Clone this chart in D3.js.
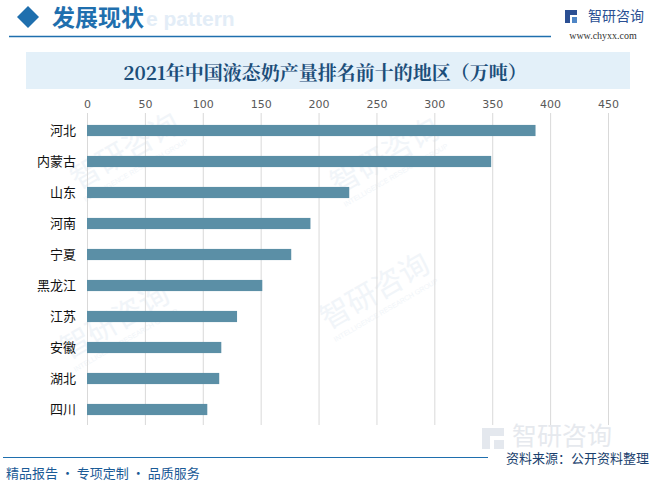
<!DOCTYPE html>
<html><head><meta charset="utf-8">
<script src="https://cdn.jsdelivr.net/npm/d3@7"></script>
<style>body{margin:0;background:#fff;}svg{display:block;}</style>
</head><body>
<svg id="c" width="669" height="492"></svg>
<script>
const categories = ["河北","内蒙古","山东","河南","宁夏","黑龙江","江苏","安徽","湖北","四川"];
const values = [387.4, 349.1, 226.5, 193.0, 176.4, 151.4, 129.6, 116.0, 114.2, 103.9];
const ticks = [0,50,100,150,200,250,300,350,400,450];
const title = "2021年中国液态奶产量排名前十的地区（万吨）";

const svg = d3.select("#c");
const cjk = "'Noto Sans CJK SC', 'Noto Sans', sans-serif";

// faint watermarks (kept inside the frame)
const wm = [[130,160],[390,165],[120,330],[380,300]];
wm.forEach(([x,y])=>{
  const g = svg.append("g").attr("transform",`translate(${x},${y}) rotate(-30)`);
  g.append("text").attr("x",0).attr("y",0).attr("font-family",cjk).attr("font-size",30)
    .attr("fill","#f1f5f9").attr("text-anchor","middle").text("智研咨询");
  g.append("text").attr("x",0).attr("y",14).attr("font-family","Arial").attr("font-size",7)
    .attr("fill","#f1f5f9").attr("text-anchor","middle").text("INTELLIGENCE RESEARCH GROUP");
});

// header
svg.append("text").attr("x",146).attr("y",26).attr("font-family","Arial, sans-serif").attr("font-weight","bold")
  .attr("font-size",21).attr("fill","#e3edf7").text("e pattern");
svg.append("path").attr("d","M17,17 L28,6 L39,17 L28,28 Z").attr("fill","#1f6fae");
svg.append("text").attr("x",52).attr("y",26).attr("font-family",cjk).attr("font-weight","bold")
  .attr("font-size",23).attr("fill","#1f6fae").text("发展现状");
svg.append("line").attr("x1",9).attr("x2",551).attr("y1",36.5).attr("y2",36.5).attr("stroke","#1f6fae").attr("stroke-width",1.5);
// logo
const lg = svg.append("g");
lg.append("rect").attr("x",565).attr("y",10).attr("width",5).attr("height",13).attr("fill","#2b4f93");
lg.append("rect").attr("x",570).attr("y",10).attr("width",7).attr("height",5).attr("fill","#2b4f93");
lg.append("rect").attr("x",572).attr("y",17).attr("width",5).attr("height",6).attr("fill","#4f86c6");
lg.append("text").attr("x",588).attr("y",21).attr("font-family",cjk).attr("font-size",14)
  .attr("fill","#2b4f93").text("智研咨询");
svg.append("text").attr("x",603).attr("y",39).attr("text-anchor","middle").attr("font-family","'Liberation Serif', serif")
  .attr("font-size",10).attr("fill","#333").text("www.chyxx.com");

// title band
svg.append("rect").attr("x",26).attr("y",52).attr("width",604).attr("height",37).attr("fill","#e3f0f9");
svg.append("text").attr("x",325).attr("y",80).attr("text-anchor","middle").attr("font-family","'Noto Serif CJK SC', 'Noto Sans CJK SC', serif")
  .attr("font-weight","bold").attr("font-size",19).attr("fill","#1c4e79").text(title);

// chart
const x = d3.scaleLinear().domain([0,450]).range([87,608]);
const y = d3.scaleBand().domain(categories).range([115,425]).paddingInner(0.64).paddingOuter(0.32);

svg.append("g").selectAll("line").data(ticks).join("line")
  .attr("x1",d=>x(d)+0.5).attr("x2",d=>x(d)+0.5).attr("y1",113).attr("y2",425)
  .attr("stroke","#d9d9d9").attr("stroke-width",1);

const xAxis = svg.append("g").attr("transform","translate(0,108)")
  .call(d3.axisTop(x).tickValues(ticks).tickSize(0).tickPadding(0));
xAxis.select(".domain").remove();
xAxis.selectAll("text").attr("font-family","'DejaVu Sans', sans-serif").attr("font-size",11).attr("fill","#595959");

svg.append("g").selectAll("rect").data(categories).join("rect")
  .attr("x",x(0)).attr("y",d=>y(d)).attr("height",y.bandwidth())
  .attr("width",(d,i)=>x(values[i])-x(0)).attr("fill","#5b8fa6");

const yAxis = svg.append("g").attr("transform",`translate(${x(0)},0)`)
  .call(d3.axisLeft(y).tickSize(0).tickPadding(11));
yAxis.select(".domain").remove();
yAxis.selectAll("text").attr("font-family",cjk).attr("font-size",13).attr("fill","#111");

// footer watermark logo
const fl = svg.append("g");
fl.append("rect").attr("x",482).attr("y",428).attr("width",8).attr("height",21).attr("fill","#e4e8ee");
fl.append("rect").attr("x",490).attr("y",428).attr("width",14).attr("height",8).attr("fill","#e4e8ee");
fl.append("rect").attr("x",494).attr("y",440).attr("width",10).attr("height",9).attr("fill","#e4e8ee");
fl.append("text").attr("x",512).attr("y",445).attr("font-family",cjk).attr("font-size",25)
  .attr("fill","#e6e9ee").text("智研咨询");

// footer
svg.append("line").attr("x1",3).attr("x2",488).attr("y1",457.5).attr("y2",457.5).attr("stroke","#1f6fae").attr("stroke-width",1.2);
svg.append("text").attr("x",649).attr("y",463).attr("text-anchor","end").attr("font-family",cjk)
  .attr("font-size",13).attr("fill","#1a3f6e").text("资料来源：公开资料整理");
svg.append("text").attr("x",6).attr("y",478).attr("font-family",cjk)
  .attr("font-size",13).attr("fill","#1a5a96").text("精品报告 · 专项定制 · 品质服务");
</script>
</body></html>
